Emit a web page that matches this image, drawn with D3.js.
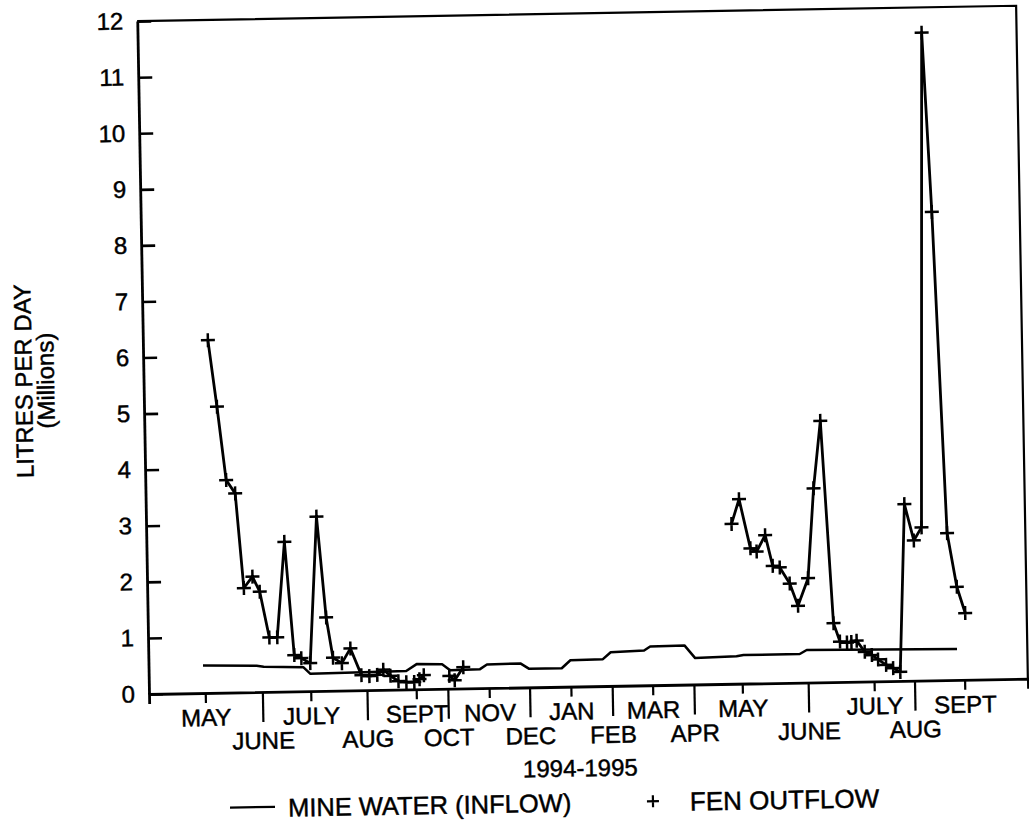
<!DOCTYPE html>
<html>
<head>
<meta charset="utf-8">
<script src="https://cdn.jsdelivr.net/npm/d3@7"></script>
<style>
  html, body { margin: 0; padding: 0; background: #fff; }
  svg { display: block; }
  text { font-family: "Liberation Sans", Arial, Helvetica, sans-serif; fill: #000; stroke: #000; stroke-width: 0.45px; }
</style>
</head>
<body>
<svg id="chart" width="1029" height="828"></svg>
<script>
// ---- Data (x in axis position units 0..100 along the time axis, y in millions of litres/day)
const monthLabels = ["MAY","JUNE","JULY","AUG","SEPT","OCT","NOV","DEC","JAN","FEB","MAR","APR","MAY","JUNE","JULY","AUG","SEPT"];
const monthPos    = [6.4, 12.9, 18.4, 24.8, 30.4, 34.0, 38.7, 43.3, 48.0, 52.7, 57.3, 62.0, 67.5, 75.0, 82.5, 87.1, 92.8];
const yTicks = [0,1,2,3,4,5,6,7,8,9,10,11,12];

// Mine water (inflow)
const minePos = [6.2, 12.3, 13.1, 17.6, 18.4, 29.3, 30.5, 33.4, 34.3, 37.7, 38.5, 42.3, 43.3, 47.0, 48.0, 51.7, 52.6, 56.4, 57.1, 61.0, 62.2, 66.9, 67.7, 74.1, 74.9, 92.0];
const mineVal = [0.49, 0.47, 0.45, 0.43, 0.31, 0.33, 0.45, 0.44, 0.33, 0.34, 0.42, 0.43, 0.33, 0.33, 0.47, 0.48, 0.60, 0.62, 0.69, 0.70, 0.47, 0.49, 0.51, 0.51, 0.58, 0.55];

// Fen outflow, 1994 May-Sept
const fen94Pos = [7.4, 8.3, 9.2, 10.2, 11.0, 12.0, 12.8, 13.8, 14.7, 15.7, 16.6, 17.4, 18.4, 19.4, 20.3, 21.0, 22.0, 23.0, 24.2, 25.1, 26.0, 26.7, 27.5, 28.4, 29.3, 30.2, 30.8, 31.3];
const fen94Val = [6.29, 5.10, 3.79, 3.55, 1.86, 2.06, 1.79, 0.97, 0.97, 2.67, 0.65, 0.59, 0.50, 3.11, 1.31, 0.59, 0.49, 0.75, 0.27, 0.25, 0.27, 0.36, 0.25, 0.15, 0.13, 0.13, 0.18, 0.25];
// Fen outflow, 1994 Oct
const fenOctPos = [34.2, 34.8, 35.8];
const fenOctVal = [0.23, 0.15, 0.38];
// Fen outflow, 1995 May-Sept
const fen95Pos = [66.6, 67.5, 68.7, 69.4, 70.4, 71.2, 72.0, 73.1, 74.0, 75.2, 76.0, 76.9, 78.0, 78.7, 79.5, 80.0, 80.6, 81.5, 82.3, 83.0, 83.9, 84.7, 85.5, 86.3, 87.3, 88.2, 89.2, 90.0, 91.1, 92.1, 93.0];
const fen95Val = [2.85, 3.29, 2.41, 2.35, 2.64, 2.09, 2.06, 1.77, 1.37, 1.86, 3.46, 4.66, 1.05, 0.72, 0.70, 0.71, 0.73, 0.53, 0.47, 0.39, 0.29, 0.23, 0.16, 3.15, 2.50, 2.73, 11.55, 8.35, 2.62, 1.66, 1.19];

// ---- Layout
const W = 879, H = 673, mLeft = 149, mTop = 21;
const svg = d3.select("#chart");
svg.append("rect").attr("width", 1029).attr("height", 828).attr("fill", "#fff").attr("stroke", "none");

const g = svg.append("g")
  .attr("transform", `rotate(-1, ${mLeft}, ${mTop + H}) translate(${mLeft}, ${mTop})`);

const x = d3.scaleLinear().domain([0, 100]).range([0, W]);
const y = d3.scaleLinear().domain([0, 12]).range([H, 0]);

const FS = 24;

// top and right frame
g.append("path")
  .attr("d", `M0,0H${W}V${H}`)
  .attr("fill", "none").attr("stroke", "#000").attr("stroke-width", 2.2);

// Y axis (ticks inside)
const yAxis = g.append("g")
  .call(d3.axisLeft(y).tickValues(yTicks).tickSize(-14).tickSizeOuter(0).tickPadding(14).tickFormat(d3.format("d")));
yAxis.select(".domain").attr("stroke", "#000").attr("stroke-width", 2.8);
yAxis.selectAll(".tick line").attr("stroke", "#000").attr("stroke-width", 2.6);
yAxis.selectAll(".tick text").attr("font-size", FS).attr("font-family", null).attr("fill", "#000");

// X axis
const xAxis = g.append("g").attr("transform", `translate(0,${H})`)
  .call(d3.axisBottom(x).tickValues(monthPos).tickSizeOuter(0).tickSize(10)
        .tickFormat((d, i) => monthLabels[i]));
xAxis.select(".domain").attr("stroke", "#000").attr("stroke-width", 2.8);
xAxis.selectAll(".tick line").attr("stroke", "#000").attr("stroke-width", 2.2)
  .attr("y2", (d, i) => i % 2 ? 30 : 10);
xAxis.selectAll(".tick text")
  .attr("font-size", FS).attr("font-family", null).attr("fill", "#000")
  .attr("dy", 0).attr("y", (d, i) => i % 2 ? 57 : 33);

// X title
g.append("text").attr("x", 430).attr("y", H + 90)
  .attr("text-anchor", "middle").attr("font-size", FS).text("1994-1995");

// Y title
g.append("text")
  .attr("transform", `translate(${37.5 - mLeft}, ${379 - mTop}) rotate(-90)`)
  .attr("text-anchor", "middle").attr("font-size", FS).text("LITRES PER DAY");
g.append("text")
  .attr("transform", `translate(${59.5 - mLeft}, ${379 - mTop}) rotate(-90)`)
  .attr("text-anchor", "middle").attr("font-size", FS).text("(Millions)");

// Mine water line
const mine = minePos.map((p, i) => [p, mineVal[i]]);
const line = d3.line().x(d => x(d[0])).y(d => y(d[1]));
g.append("path").datum(mine).attr("d", line)
  .attr("fill", "none").attr("stroke", "#000").attr("stroke-width", 2.5).attr("stroke-linejoin", "round");

// Fen outflow segments
const segs = [
  fen94Pos.map((p, i) => [p, fen94Val[i]]),
  fenOctPos.map((p, i) => [p, fenOctVal[i]]),
  fen95Pos.map((p, i) => [p, fen95Val[i]])
];
const P = 7;
segs.forEach(seg => {
  g.append("path").datum(seg).attr("d", line)
    .attr("fill", "none").attr("stroke", "#000").attr("stroke-width", 2.8).attr("stroke-linejoin", "round");
  g.append("g").selectAll("path").data(seg).join("path")
    .attr("d", d => `M${x(d[0]) - P},${y(d[1])}H${x(d[0]) + P}M${x(d[0])},${y(d[1]) - P}V${y(d[1]) + P}`)
    .attr("stroke", "#000").attr("stroke-width", 2.5).attr("fill", "none");
});

// Legend
const ly = H + 115;
g.append("line").attr("x1", 79).attr("x2", 124).attr("y1", ly).attr("y2", ly)
  .attr("stroke", "#000").attr("stroke-width", 2.2);
g.append("text").attr("x", 137).attr("y", H + 125).attr("font-size", 25.5).text("MINE WATER (INFLOW)");
g.append("path")
  .attr("d", `M${502 - 6},${ly + 1}H${502 + 6}M502,${ly + 1 - 6}V${ly + 1 + 6}`)
  .attr("stroke", "#000").attr("stroke-width", 2.2);
g.append("text").attr("x", 539).attr("y", H + 126).attr("font-size", 26).text("FEN OUTFLOW");
</script>
</body>
</html>
